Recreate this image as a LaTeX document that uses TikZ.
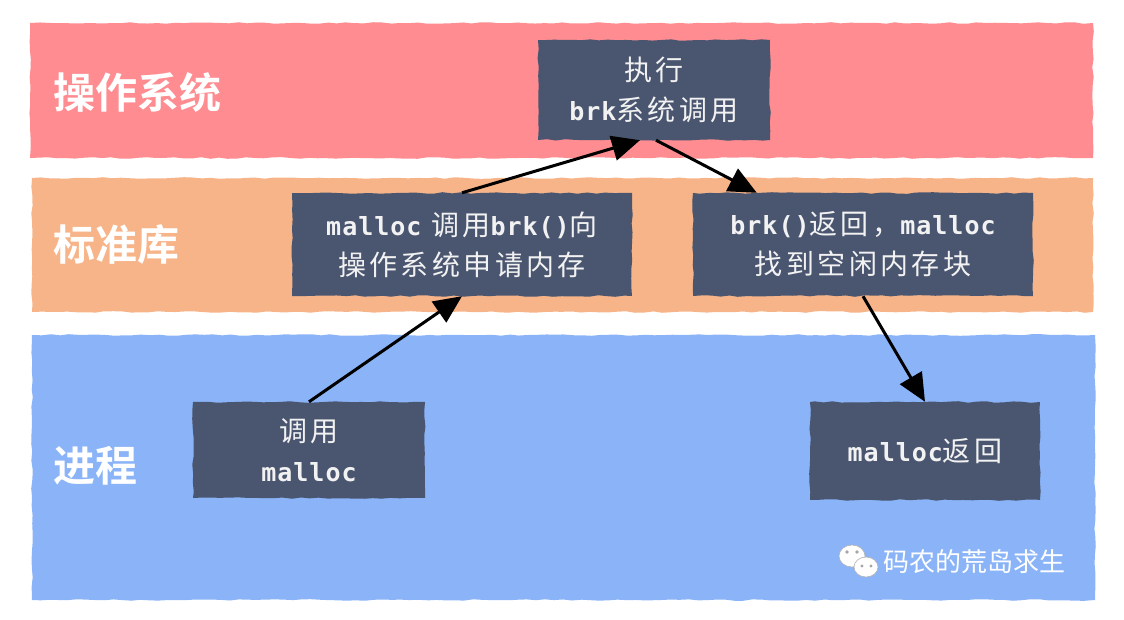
\documentclass[tikz,border=0pt]{standalone}
\usepackage{fontspec}
\newfontfamily\cjk{Noto Sans CJK SC}[BoldFont={Noto Sans CJK SC Bold}]
\newfontfamily\boxcjk{Noto Sans CJK SC}[LetterSpace=12]
\newfontfamily\codefont{DejaVu Sans Mono}[LetterSpace=4]
\usetikzlibrary{arrows.meta,decorations.pathmorphing}

\definecolor{osred}{HTML}{FE8C91}
\definecolor{libor}{HTML}{F7B489}
\definecolor{procbl}{HTML}{8AB4F7}
\definecolor{slate}{HTML}{4A5670}
\definecolor{boxtxt}{HTML}{F2F2F2}

\newcommand\mc[1]{{\codefont\bfseries\fontsize{25}{40}\selectfont#1}}

\tikzset{
  rough/.style={decorate,decoration={random steps,segment length=9pt,amplitude=0.8pt}},
  band/.style={rough},
  layer/.style={text=white,font=\cjk\bfseries\fontsize{42}{42}\selectfont,anchor=west,inner sep=0pt},
  stepbox/.style={fill=slate,rough,text=boxtxt,align=center,inner sep=0pt,
    font=\boxcjk\fontsize{28}{40}\selectfont},
  flow/.style={line width=3pt,-{Triangle[length=28pt,width=25pt]}}
}

\begin{document}
\begin{tikzpicture}[x=1pt,y=-1pt]
\pgfmathsetseed{7}
\useasboundingbox (0,0) rectangle (1124,620);

% the three layers
\fill[band,fill=osred] (30,23) rectangle (1093,158);
\fill[band,fill=libor] (32,178) rectangle (1093,312);
\fill[band,fill=procbl] (32,335) rectangle (1095,600);

\node[layer] (os) at (53,92) {操作系统};
\node[layer] (lib) at (53,245) {标准库};
\node[layer] (proc) at (53,466) {进程};

% steps
\node[stepbox,minimum width=232pt,minimum height=100pt] (sys) at (654,90) {执行\\\mc{brk}系统调用};
\node[stepbox,minimum width=340pt,minimum height=103pt] (req) at (462,244.5) {\mc{malloc} 调用\mc{brk()}向\\操作系统申请内存};
\node[stepbox,minimum width=340pt,minimum height=103pt] (ret) at (863,244.5) {\mc{brk()}返回，\mc{malloc}\\找到空闲内存块};
\node[stepbox,minimum width=232pt,minimum height=96pt] (call) at (309,450) {调用\\\mc{malloc}};
\node[stepbox,minimum width=230pt,minimum height=98pt] (done) at (925,451) {\mc{malloc}返回};

\draw[flow] (call.north) -- (req.south);
\draw[flow] (req.north) -- ([xshift=-14pt]sys.south);
\draw[flow] ([xshift=2pt]sys.south) -- ([xshift=64pt]ret.north west);
\draw[flow] (ret.south) -- (done.north);

% watermark
\fill[white,draw=gray!60,line width=0.6pt] (852,556) ellipse (13pt and 11pt);
\fill[white,draw=gray!60,line width=0.6pt] (866,567) ellipse (12pt and 10pt);
\foreach \x in {847,857} \fill[gray!70] (\x,552) circle (1.8pt);
\foreach \x in {862,871} \fill[gray!70] (\x,566) circle (1.6pt);
\node[text=white,font=\cjk\fontsize{26}{26}\selectfont,anchor=west,inner sep=0pt] (mark) at (883,562) {码农的荒岛求生};
\end{tikzpicture}
\end{document}
